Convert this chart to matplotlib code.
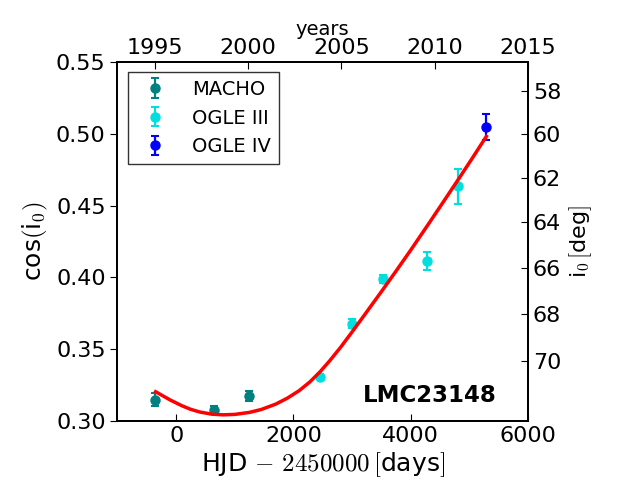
import numpy as np
import matplotlib
matplotlib.use('Agg')
import matplotlib.pyplot as plt

plt.rcParams['mathtext.fontset'] = 'cm'
plt.rcParams['font.family'] = 'DejaVu Sans'

# datos
macho_t = [-354, 645, 1244]
macho_c = [0.3148, 0.3079, 0.3176]
macho_e = [0.0044, 0.0026, 0.0035]

ogle3_t = [2452, 3006, 3524, 4282, 4812]
ogle3_c = [0.3309, 0.3678, 0.3989, 0.4114, 0.4636]
ogle3_e = [0.0015, 0.0031, 0.0025, 0.0063, 0.0122]

ogle4_t = [5291]
ogle4_c = [0.5050]
ogle4_e = [0.0090]

# curva ajustada
fit_t = [-350, -100, 100, 250, 400, 600, 800, 1000, 1250, 1450, 1700, 1900, 2100, 2280,
         2450, 2620, 2800, 3000, 3250, 3530, 3760, 4000, 4300, 4550, 4810, 5050, 5290]
fit_c = [0.3204, 0.3146, 0.3106, 0.3081, 0.3063, 0.3048, 0.3043, 0.3046, 0.3060, 0.3080,
         0.3118, 0.3160, 0.3212, 0.3272, 0.3341, 0.3420, 0.3511, 0.3620, 0.3760, 0.3918,
         0.4050, 0.4190, 0.4370, 0.4522, 0.4681, 0.4830, 0.4982]

inc_ticks = [58, 60, 62, 64, 66, 68, 70]
year_ticks = [1995, 2000, 2005, 2010, 2015]

fig = plt.figure(figsize=(6.2, 4.92), dpi=100)
ax = fig.add_axes([0.1895, 0.1443, 0.6621, 0.7297])

eb = dict(fmt='o', ms=6.5, capsize=3, capthick=1.5, elinewidth=1.6)
ax.errorbar(macho_t, macho_c, yerr=macho_e, color='#008080', mec='#008080', label='MACHO', **eb)
ax.errorbar(ogle3_t, ogle3_c, yerr=ogle3_e, color='#00dfdf', mec='#00dfdf', label='OGLE III', **eb)
ax.errorbar(ogle4_t, ogle4_c, yerr=ogle4_e, color='#0000ff', mec='#0000ff', label='OGLE IV', **eb)
ax.plot(fit_t, fit_c, color='red', lw=2.5, zorder=5, solid_joinstyle='round')

ax.set_xlim(-1000, 6000)
ax.set_ylim(0.30, 0.55)
ax.set_xticks([0, 2000, 4000, 6000])
ax.set_yticks([0.30, 0.35, 0.40, 0.45, 0.50, 0.55])
ax.set_yticklabels(['%.2f' % v for v in [0.30, 0.35, 0.40, 0.45, 0.50, 0.55]])
ax.tick_params(axis='both', labelsize=16, length=5, width=0.8)
ax.tick_params(axis='x', direction='in')
ax.tick_params(axis='y', direction='out')
ax.set_xlabel(r'HJD$\,-\,2450000\,[$days$]$', fontsize=18, labelpad=3)
ax.set_ylabel(r'cos$($i$_0)$', fontsize=18, labelpad=4)

ax.text(0.924, 0.07, 'LMC23148', transform=ax.transAxes, ha='right', va='center',
        fontsize=16.5, fontweight='bold')

leg = ax.legend(loc='upper left', bbox_to_anchor=(0.025, 0.972), borderaxespad=0,
                numpoints=1, fontsize=14, fancybox=False, handletextpad=0.9,
                labelspacing=0.5, borderpad=0.4)
leg.get_frame().set_edgecolor('black')
leg.get_frame().set_linewidth(1.0)

# eje derecho: inclinacion
ax2 = ax.twinx()
ax2.set_ylim(0.30, 0.55)
ax2.set_yticks(np.cos(np.radians(inc_ticks)))
ax2.set_yticklabels([str(d) for d in inc_ticks])
ax2.tick_params(axis='y', labelsize=16, direction='in', length=5, width=0.8)
ax2.set_ylabel(r'i$_0\,[$deg$]$', fontsize=16, labelpad=4)

# eje superior: anios
ax3 = ax.twiny()
ax3.set_xlim(1993, 2015)
ax3.set_xticks(year_ticks)
ax3.tick_params(axis='x', labelsize=16, direction='in', length=5, width=0.8, pad=3)
ax3.set_xlabel('years', fontsize=14, labelpad=2)

for a in (ax, ax2, ax3):
    for s in a.spines.values():
        s.set_linewidth(1.2)

fig.savefig('out.png', dpi=100)
